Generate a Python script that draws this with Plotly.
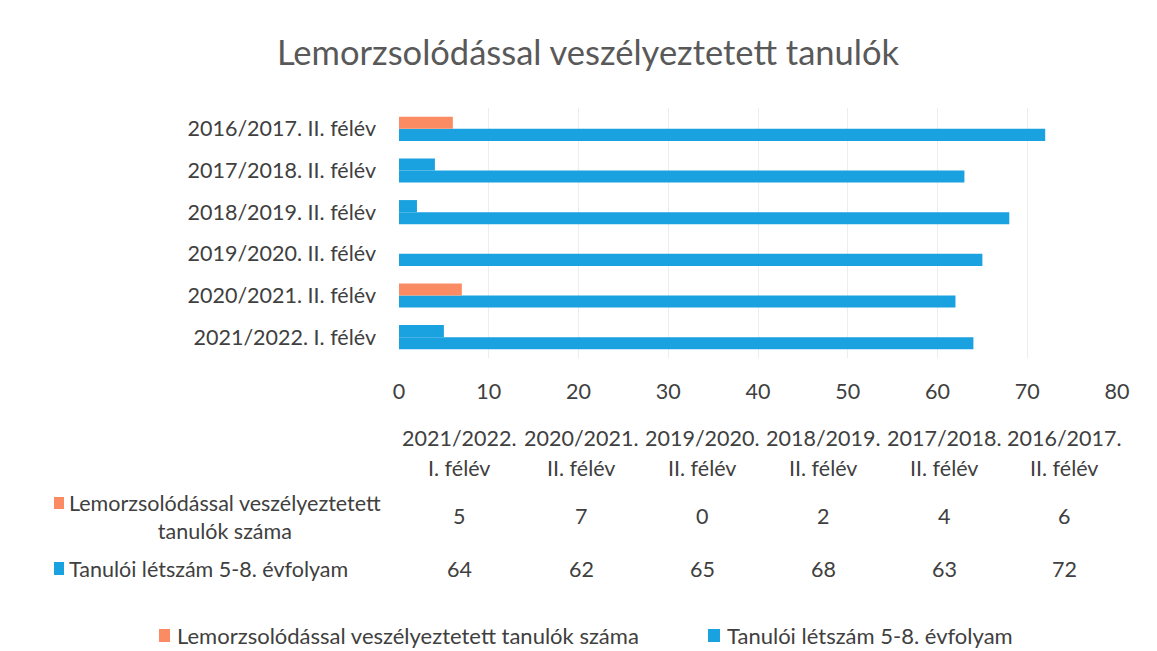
import plotly.graph_objects as go

# ---- data ----
categories = ["2021/2022. I. félév", "2020/2021. II. félév", "2019/2020. II. félév",
              "2018/2019. II. félév", "2017/2018. II. félév", "2016/2017. II. félév"]
series_names = ["Lemorzsolódással veszélyeztetett tanulók száma",
                "Tanulói létszám 5-8. évfolyam"]
at_risk = [5, 7, 0, 2, 4, 6]
enrolled = [64, 62, 65, 68, 63, 72]
x_ticks = [0, 10, 20, 30, 40, 50, 60, 70, 80]
title_text = "Lemorzsolódással veszélyeztetett tanulók"

ORANGE = "#FB8B62"
BLUE = "#1AA1DF"
# in the reference the short bars of three periods render in blue
at_risk_colors = [BLUE, ORANGE, BLUE, BLUE, BLUE, ORANGE]
TXT = "#404040"
FONT = "Lato"
FS = 21.5

W, H = 1157, 651
L, R, T, B = 399, 40, 108, 293
PW, PH = W - L - R, H - T - B

def px(x):
    return (x - L) / PW

def py(y):
    return (H - B - y) / PH

fig = go.Figure()
fig.add_trace(go.Bar(y=categories, x=enrolled, orientation="h", name=series_names[1],
                     marker=dict(color=BLUE, line_width=0), showlegend=False))
fig.add_trace(go.Bar(y=categories, x=at_risk, orientation="h", name=series_names[0],
                     marker=dict(color=at_risk_colors, line_width=0), showlegend=False))

annotations = []
shapes = []

def txt(x, y, s, xanchor="center", align="center", size=FS):
    annotations.append(dict(x=px(x), y=py(y), text=s, showarrow=False, xref="paper", yref="paper",
                            xanchor=xanchor, yanchor="middle", align=align,
                            font=dict(size=size, color=TXT, family=FONT)))

def square(x0, x1, y0, y1, c):
    shapes.append(dict(type="rect", xref="paper", yref="paper", x0=px(x0), x1=px(x1),
                       y0=py(y1), y1=py(y0), fillcolor=c, line_width=0))

# data table under the axis
col_x = [459, 581, 702, 823, 944, 1064]
for cx, cat, a, e in zip(col_x, categories, at_risk, enrolled):
    first, second = cat.split(". ", 1)
    txt(cx, 438, first + ".")
    txt(cx, 468, second)
    txt(cx, 516, str(a))
    txt(cx, 569, str(e))

# row labels with keys
txt(67, 517, "Lemorzsolódással veszélyeztetett<br>tanulók száma", xanchor="left", align="center")
txt(67, 569, series_names[1], xanchor="left", align="left")
square(54, 64, 497, 509, ORANGE)
square(54, 64, 562, 575, BLUE)

# legend at bottom
square(159, 170, 629, 642, ORANGE)
txt(175, 635, series_names[0], xanchor="left", align="left", size=22)
square(708, 720, 629, 642, BLUE)
txt(725, 635, series_names[1], xanchor="left", align="left", size=22)

fig.update_layout(
    width=W, height=H,
    margin=dict(l=L, r=R, t=T, b=B),
    paper_bgcolor="white", plot_bgcolor="white",
    barmode="group", bargap=0.42, bargroupgap=0,
    showlegend=False,
    title=dict(text=title_text, x=588 / W, xref="container", xanchor="center",
               y=1 - 53 / H, yref="container", yanchor="middle",
               font=dict(size=34.5, color="#595959", family=FONT)),
    xaxis=dict(range=[0, 80], tickvals=x_ticks, showgrid=True, gridcolor="#EDEDED", gridwidth=1,
               zeroline=False, showline=False, ticks="", ticklabelstandoff=18,
               tickfont=dict(size=FS, color=TXT, family=FONT)),
    yaxis=dict(categoryorder="array", categoryarray=categories, showgrid=False, showline=False,
               ticks="", ticklabelstandoff=22, tickfont=dict(size=FS, color=TXT, family=FONT)),
    annotations=annotations, shapes=shapes,
)

fig.write_html("out.html")
